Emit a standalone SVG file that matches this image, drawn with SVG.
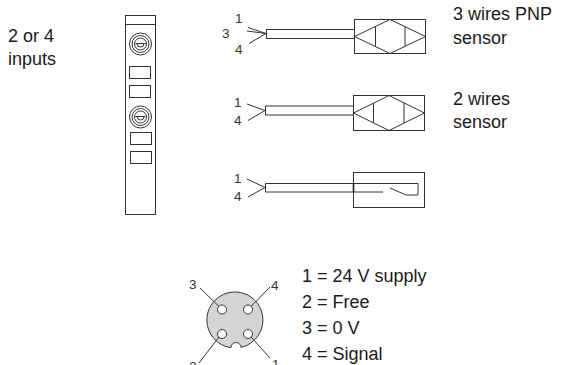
<svg xmlns="http://www.w3.org/2000/svg" width="569" height="365" viewBox="0 0 569 365">
<style>
.ln{fill:none;stroke:#333;stroke-width:1}
.bx{fill:#fff;stroke:#333;stroke-width:1}
.t{font-family:"Liberation Sans",Arial,sans-serif;font-size:18px;fill:#1a1a1a}
.p{font-family:"Liberation Sans",Arial,sans-serif;font-size:13.5px;fill:#333}
</style>
<rect width="569" height="365" fill="#fff"/>
<g id="label-inputs">
<text class="t" x="8" y="42">2 or 4</text>
<text class="t" x="8" y="65">inputs</text>
</g>
<g id="module">
<rect class="bx" x="125.5" y="15.5" width="30" height="199" stroke-width="1.3"/>
<line class="ln" x1="125.5" y1="24.5" x2="155.5" y2="24.5"/>
<g id="screw1">
<circle class="ln" cx="140.5" cy="44" r="11"/>
<circle class="ln" cx="140.5" cy="44" r="8.5"/>
<circle class="ln" cx="140.5" cy="44" r="6"/>
<path class="ln" d="M135.5,43.5 H145.5 M137,43.5 A3.5,3.5 0 0,0 144,43.5"/>
</g>
<rect class="bx" x="129.5" y="66.5" width="21" height="12"/>
<rect class="bx" x="129.5" y="85.5" width="21" height="12"/>
<g id="screw2">
<circle class="ln" cx="140.5" cy="117" r="11"/>
<circle class="ln" cx="140.5" cy="117" r="8.5"/>
<circle class="ln" cx="140.5" cy="117" r="6"/>
<path class="ln" d="M135.5,116.5 H145.5 M137,116.5 A3.5,3.5 0 0,0 144,116.5"/>
</g>
<rect class="bx" x="130.5" y="132.5" width="21" height="12"/>
<rect class="bx" x="130.5" y="151.5" width="21" height="12"/>
</g>
<g id="sensor-pnp">
<text class="p" x="222" y="38">3</text>
<text class="p" x="235" y="23">1</text>
<text class="p" x="235" y="54">4</text>
<path class="ln" d="M248,27.5 L266,33.5 M247,31 L266,33.5 M249,43.5 L266,33.5"/>
<rect class="bx" x="266.5" y="29.5" width="88" height="9"/>
<rect class="bx" x="354.5" y="19.5" width="71" height="34"/>
<path class="ln" d="M354.5,36.5 L390,19.5 L425.5,36.5 L390,53.5 Z M375.5,26.7 V46.3 M405,26.9 V46.1"/>
<text class="t" x="453" y="20">3 wires PNP</text>
<text class="t" x="453" y="44">sensor</text>
</g>
<g id="sensor-2wire">
<text class="p" x="234" y="107">1</text>
<text class="p" x="234" y="125">4</text>
<path class="ln" d="M247,104 L265,110.5 M248,120.5 L265,110.5"/>
<rect class="bx" x="265.5" y="106" width="88" height="9"/>
<rect class="bx" x="353.5" y="95.5" width="71" height="35"/>
<path class="ln" d="M353.5,113 L389,95.5 L424.5,113 L389,130.5 Z M373.5,103.2 V122.8 M404,102.9 V123.1"/>
<text class="t" x="453" y="105">2 wires</text>
<text class="t" x="453" y="128">sensor</text>
</g>
<g id="sensor-contact">
<text class="p" x="234" y="183">1</text>
<text class="p" x="234" y="201">4</text>
<path class="ln" d="M247,179 L265,187.5 M248,197 L265,187.5"/>
<rect class="bx" x="353.5" y="172.5" width="71" height="35"/>
<path class="ln" d="M265.5,183.5 H418 V195 H406 L390,188 M265.5,183.5 V192 H383"/>
<line x1="353.5" y1="183.5" x2="353.5" y2="192" stroke="#222" stroke-width="1.6"/>
</g>
<g id="connector">
<path d="M231,347.7 A28,28 0 1,1 241,347.3 A5,5 0 0,0 231,347.7 Z" fill="#d4d4d4" stroke="#333" stroke-width="1"/>
<circle cx="222" cy="309.5" r="4.5" fill="#fff" stroke="#333"/>
<circle cx="248" cy="309.5" r="4.5" fill="#fff" stroke="#333"/>
<circle cx="222" cy="334" r="4.5" fill="#fff" stroke="#333"/>
<circle cx="248" cy="334" r="4.5" fill="#fff" stroke="#333"/>
<path class="ln" d="M200,288 L218.8,306.3 M270,287 L251.2,306.3 M199,363 L218.8,337.2 M270,358 L251.2,337.2"/>
<text class="p" x="189" y="289">3</text>
<text class="p" x="271" y="290">4</text>
<text class="p" x="189" y="371">2</text>
<text class="p" x="272" y="369">1</text>
</g>
<g id="pin-legend">
<text class="t" x="302" y="282">1 = 24 V supply</text>
<text class="t" x="302" y="308">2 = Free</text>
<text class="t" x="302" y="334">3 = 0 V</text>
<text class="t" x="302" y="360">4 = Signal</text>
</g>
</svg>
